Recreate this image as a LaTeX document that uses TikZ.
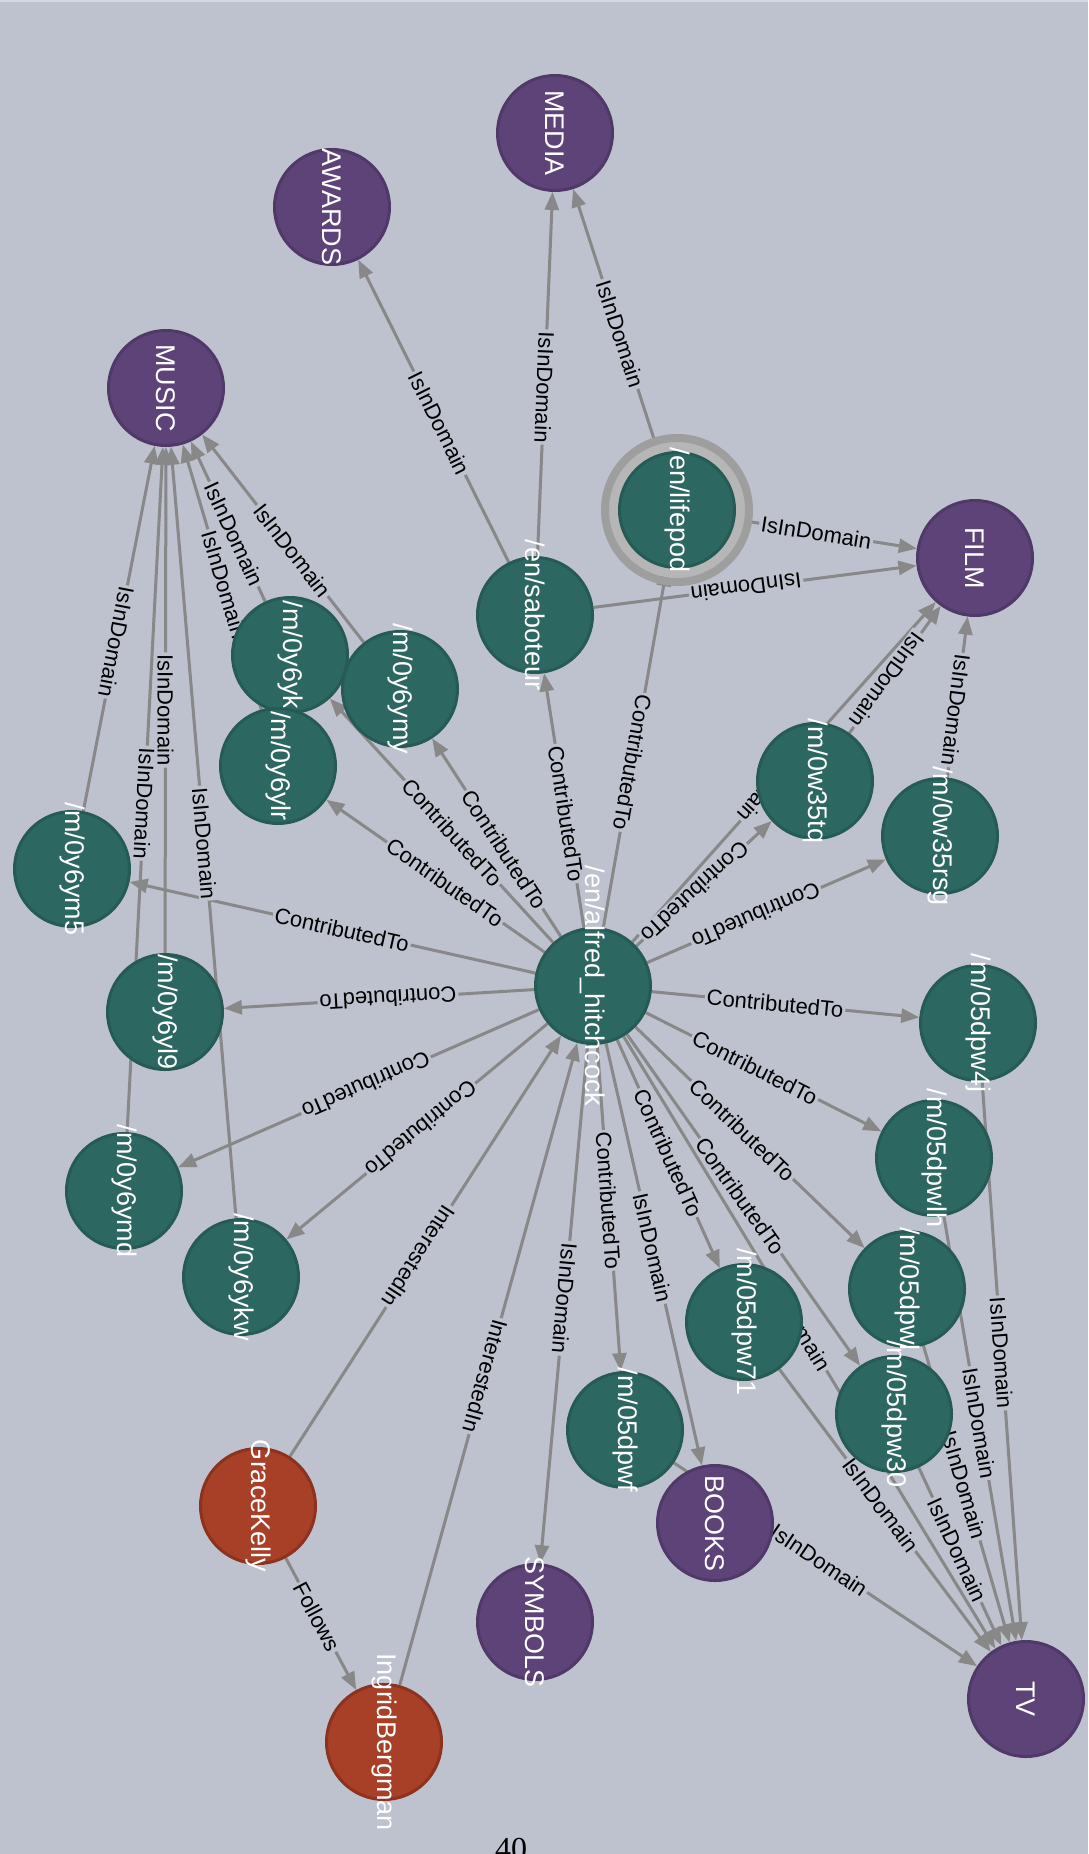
\documentclass[tikz,border=0pt]{standalone}
\usepackage{fontspec}
\setmainfont{Liberation Sans}
\newfontfamily\pagenumfont{Liberation Serif}
\usetikzlibrary{arrows.meta}

\definecolor{bg}{RGB}{190,193,206}
\definecolor{bgtop}{RGB}{214,216,224}
\definecolor{tealfill}{RGB}{45,103,97}
\definecolor{tealline}{RGB}{38,90,85}
\definecolor{classfill}{RGB}{94,67,120}
\definecolor{classline}{RGB}{80,56,104}
\definecolor{personfill}{RGB}{168,64,40}
\definecolor{personline}{RGB}{140,50,30}
\definecolor{edgegray}{RGB}{136,136,136}
\definecolor{ringdark}{RGB}{158,158,158}
\definecolor{ringlight}{RGB}{182,182,182}

\pgfdeclarelayer{paper}
\pgfdeclarelayer{edges}
\pgfdeclarelayer{labels}
\pgfsetlayers{paper,edges,labels,main}

\tikzset{
  vertex/.style={circle, minimum size=115pt, inner sep=0pt, line width=3pt,
    rotate=-90, text=white, font=\fontsize{27}{27}\selectfont},
  itemnode/.style={vertex, fill=tealfill, draw=tealline},
  classnode/.style={vertex, fill=classfill, draw=classline},
  personnode/.style={vertex, fill=personfill, draw=personline},
  edgeline/.style={draw=edgegray, line width=3pt},
  edgefwd/.style={edgeline, -{Triangle[length=18pt,width=14pt]}},
  edgebwd/.style={edgeline, {Triangle[length=18pt,width=14pt]}-},
  edgelabel/.style={sloped, allow upside down, fill=bg, inner sep=2pt,
    text=black, font=\fontsize{22}{22}\selectfont},
}

% node text that never widens the circle
\newcommand\vtext[1]{\makebox[0pt]{#1}}
% #1 arrow style, #2 upper node, #3 lower node, #4 label position (centre to centre), #5 label
\newcommand\linkto[5]{%
  \begin{pgfonlayer}{edges}\draw[#1] (#2) -- (#3);\end{pgfonlayer}%
  \begin{pgfonlayer}{labels}\path (#2.center) -- node[edgelabel, pos=#4] {#5} (#3.center);\end{pgfonlayer}%
}

\begin{document}
\begin{tikzpicture}[x=1pt, y=-1pt]
\useasboundingbox (0,0) rectangle (1088,1854);
\begin{pgfonlayer}{paper}
\fill[bg] (0,0) rectangle (1088,1854);
\fill[bgtop] (0,0) rectangle (1088,2);
\end{pgfonlayer}

% selection ring around /en/lifepod
\coordinate (lifepodc) at (677,510);
\draw[ringlight, line width=10pt] (lifepodc) circle[radius=63pt];
\draw[ringdark, line width=8pt] (lifepodc) circle[radius=72pt];

% domains
\node[classnode] (media) at (555,133) {\vtext{MEDIA}};
\node[classnode] (awards) at (332,207) {\vtext{AWARDS}};
\node[classnode] (music) at (166,388) {\vtext{MUSIC}};
\node[classnode] (film) at (975,558) {\vtext{FILM}};
\node[classnode] (books) at (715,1523) {\vtext{BOOKS}};
\node[classnode] (symbols) at (535,1622) {\vtext{SYMBOLS}};
\node[classnode] (tv) at (1026,1699) {\vtext{TV}};

% topics
\node[itemnode] (lifepod) at (lifepodc) {\vtext{/en/lifepod}};
\node[itemnode] (saboteur) at (535,615) {\vtext{/en/saboteur}};
\node[itemnode] (yk) at (290,655) {\vtext{/m/0y6yk}};
\node[itemnode] (ymy) at (400,689) {\vtext{/m/0y6ymy}};
\node[itemnode] (ylr) at (278,766) {\vtext{/m/0y6ylr}};
\node[itemnode] (w35tq) at (815,781) {\vtext{/m/0w35tq}};
\node[itemnode] (w35rsg) at (940,836) {\vtext{/m/0w35rsg}};
\node[itemnode] (ym5) at (72,869) {\vtext{/m/0y6ym5}};
\node[itemnode] (hitch) at (593,986) {\vtext{/en/alfred\_hitchcock}};
\node[itemnode] (yl9) at (165,1012) {\vtext{/m/0y6yl9}};
\node[itemnode] (dpw4j) at (978,1023) {\vtext{/m/05dpw4j}};
\node[itemnode] (ymd) at (124,1191) {\vtext{/m/0y6ymd}};
\node[itemnode] (dpwlh) at (934,1158) {\vtext{/m/05dpwlh}};
\node[itemnode] (ykw) at (241,1277) {\vtext{/m/0y6ykw}};
\node[itemnode] (dpwl) at (907,1289) {\vtext{/m/05dpwl}};
\node[itemnode] (dpw71) at (744,1322) {\vtext{/m/05dpw71}};
\node[itemnode] (dpw30) at (894,1414) {\vtext{/m/05dpw30}};
\node[itemnode] (dpwf) at (625,1430) {\vtext{/m/05dpwf}};

% people
\node[personnode] (grace) at (258,1506) {\vtext{GraceKelly}};
\node[personnode] (ingrid) at (384,1742) {\vtext{IngridBergman}};

% page number
\node[font=\pagenumfont\fontsize{32}{32}\selectfont, anchor=base, inner sep=0pt] (pagenum) at (511,1859) {40};

% relations
\linkto{edgebwd}{awards}{saboteur}{0.53}{IsInDomain}
\linkto{edgebwd}{media}{saboteur}{0.527}{IsInDomain}
\linkto{edgebwd}{media}{lifepod}{0.533}{IsInDomain}
\linkto{edgefwd}{lifepod}{film}{0.467}{IsInDomain}
\linkto{edgebwd}{film}{saboteur}{0.52}{IsInDomain}
\linkto{edgebwd}{film}{w35tq}{0.547}{IsInDomain}
\linkto{edgebwd}{film}{w35rsg}{0.547}{IsInDomain}
\linkto{edgebwd}{film}{hitch}{0.513}{IsInDomain}

\linkto{edgebwd}{lifepod}{hitch}{0.53}{ContributedTo}
\linkto{edgebwd}{saboteur}{hitch}{0.535}{ContributedTo}
\linkto{edgebwd}{ymy}{hitch}{0.54}{ContributedTo}
\linkto{edgebwd}{yk}{hitch}{0.536}{ContributedTo}
\linkto{edgebwd}{ylr}{hitch}{0.53}{ContributedTo}
\linkto{edgebwd}{ym5}{hitch}{0.518}{ContributedTo}
\linkto{edgefwd}{hitch}{yl9}{0.479}{ContributedTo}
\linkto{edgefwd}{hitch}{ymd}{0.484}{ContributedTo}
\linkto{edgefwd}{hitch}{ykw}{0.489}{ContributedTo}
\linkto{edgebwd}{w35tq}{hitch}{0.54}{ContributedTo}
\linkto{edgebwd}{w35rsg}{hitch}{0.53}{ContributedTo}
\linkto{edgefwd}{hitch}{dpw4j}{0.473}{ContributedTo}
\linkto{edgefwd}{hitch}{dpwlh}{0.475}{ContributedTo}
\linkto{edgefwd}{hitch}{dpwl}{0.475}{ContributedTo}
\linkto{edgefwd}{hitch}{dpw30}{0.49}{ContributedTo}
\linkto{edgefwd}{hitch}{dpw71}{0.496}{ContributedTo}
\linkto{edgefwd}{hitch}{dpwf}{0.483}{ContributedTo}

\linkto{edgefwd}{hitch}{books}{0.487}{IsInDomain}
\linkto{edgefwd}{hitch}{symbols}{0.491}{IsInDomain}
\linkto{edgefwd}{hitch}{tv}{0.47}{IsInDomain}

\linkto{edgebwd}{hitch}{grace}{0.52}{InterestedIn}
\linkto{edgebwd}{hitch}{ingrid}{0.516}{InterestedIn}
\linkto{edgefwd}{grace}{ingrid}{0.47}{Follows}

\linkto{edgebwd}{music}{ym5}{0.528}{IsInDomain}
\linkto{edgebwd}{music}{yl9}{0.516}{IsInDomain}
\linkto{edgebwd}{music}{ymd}{0.517}{IsInDomain}
\linkto{edgebwd}{music}{ykw}{0.512}{IsInDomain}
\linkto{edgebwd}{music}{ylr}{0.52}{IsInDomain}
\linkto{edgebwd}{music}{yk}{0.547}{IsInDomain}
\linkto{edgebwd}{music}{ymy}{0.54}{IsInDomain}

\linkto{edgefwd}{dpw4j}{tv}{0.488}{IsInDomain}
\linkto{edgefwd}{dpwlh}{tv}{0.49}{IsInDomain}
\linkto{edgefwd}{dpwl}{tv}{0.478}{IsInDomain}
\linkto{edgefwd}{dpw30}{tv}{0.477}{IsInDomain}
\linkto{edgefwd}{dpw71}{tv}{0.485}{IsInDomain}
\linkto{edgefwd}{dpwf}{tv}{0.484}{IsInDomain}
\end{tikzpicture}
\end{document}
